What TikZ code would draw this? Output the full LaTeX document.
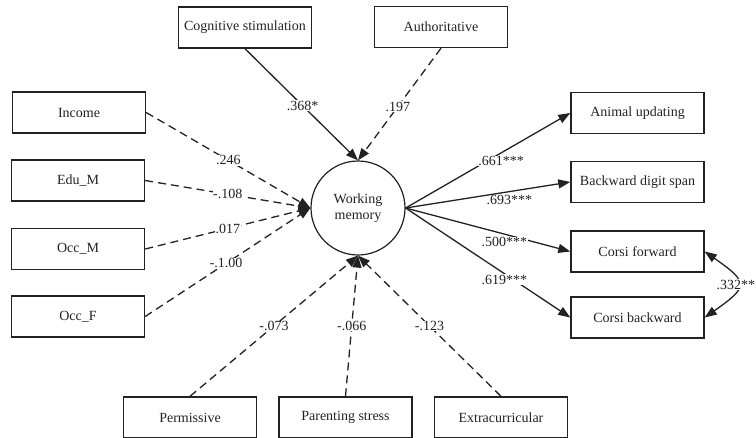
\documentclass[tikz,border=0pt]{standalone}
\usepackage{fontspec}
\setmainfont{Liberation Serif}
\usetikzlibrary{arrows.meta}
\definecolor{ink}{HTML}{222222}
\tikzset{
  var/.style={draw=ink, line width=1.4pt, minimum width=133pt, minimum height=41pt,
    inner sep=0pt, font=\fontsize{14}{15.5}\selectfont, text=ink},
  latent/.style={draw=ink, line width=1.2pt, circle, minimum size=94pt, inner sep=0pt,
    align=center, font=\fontsize{14}{15.5}\selectfont, text=ink},
  link/.style={draw=ink, line width=1.3pt, -{Triangle[length=12pt,width=9pt]}},
  weak/.style={link, dash pattern=on 8pt off 5pt},
  coef/.style={fill=white, inner sep=0.6pt, font=\fontsize{14}{15.5}\selectfont, text=ink},
}
\begin{document}
\begin{tikzpicture}[x=1pt, y=-1pt]
\path[use as bounding box] (0,0) rectangle (756,437);
\clip (0,0) rectangle (756,437);

% latent construct
\node[latent] (wm) at (358,208) {Working\\memory};

% predictors
\node[var] (cog)    at (245,27.5)  {Cognitive stimulation};
\node[var] (auth)   at (441,27)    {Authoritative};
\node[var] (income) at (79,112.5)  {Income};
\node[var] (edu)    at (78,180.5)  {Edu\_M};
\node[var] (occm)   at (78,249)    {Occ\_M};
\node[var] (occf)   at (78,316.5)  {Occ\_F};
\node[var] (perm)   at (190,417.5) {Permissive};
\node[var] (ps)     at (345.5,417.5) {Parenting stress};
\node[var] (extra)  at (501,417.5) {Extracurricular};

% indicators
\node[var] (anim) at (637.5,113)   {Animal updating};
\node[var] (bds)  at (637.5,182)   {Backward digit span};
\node[var] (cf)   at (637.5,251.5) {Corsi forward};
\node[var] (cb)   at (637.5,317.5) {Corsi backward};

% structural paths
\draw[link] (cog.south)  -- node[coef, pos=0.51] {.368*} (wm.north);
\draw[weak] (auth.south) -- node[coef, pos=0.52] {.197} (wm.north);
\draw[weak] (income.east) -- node[coef, pos=0.5] {.246} (wm.west);
\draw[weak] (edu.east)    -- node[coef, pos=0.5] {-.108} (wm.west);
\draw[weak] (occm.east)   -- node[coef, pos=0.5] {.017} (wm.west);
\draw[weak] (occf.east)   -- node[coef, pos=0.49] {-.1.00} (wm.west);
\draw[weak] (perm.north)  -- node[coef, pos=0.5] {-.073} (wm.south);
\draw[weak] (ps.north)    -- node[coef, pos=0.5] {-.066} (wm.south);
\draw[weak] (extra.north) -- node[coef, pos=0.5] {-.123} (wm.south);

% measurement paths
\draw[link] (wm.east) -- node[coef, pos=0.58, yshift=-8pt] {.661***} (anim.west);
\draw[link] (wm.east) -- node[coef, pos=0.63, yshift=-8pt, fill=none] {.693***} (bds.west);
\draw[link] (wm.east) -- node[coef, pos=0.6, yshift=-8pt] {.500***} (cf.west);
\draw[link] (wm.east) -- node[coef, pos=0.6, yshift=-6pt] {.619***} (cb.west);

% residual covariance
\draw[draw=ink, line width=1.3pt, {Triangle[length=12pt,width=9pt]}-{Triangle[length=12pt,width=9pt]}]
  (cf.east) to[out=-35, in=35, looseness=2.1] node[coef, pos=0.5, xshift=-2pt] {.332**} (cb.east);
\end{tikzpicture}
\end{document}
